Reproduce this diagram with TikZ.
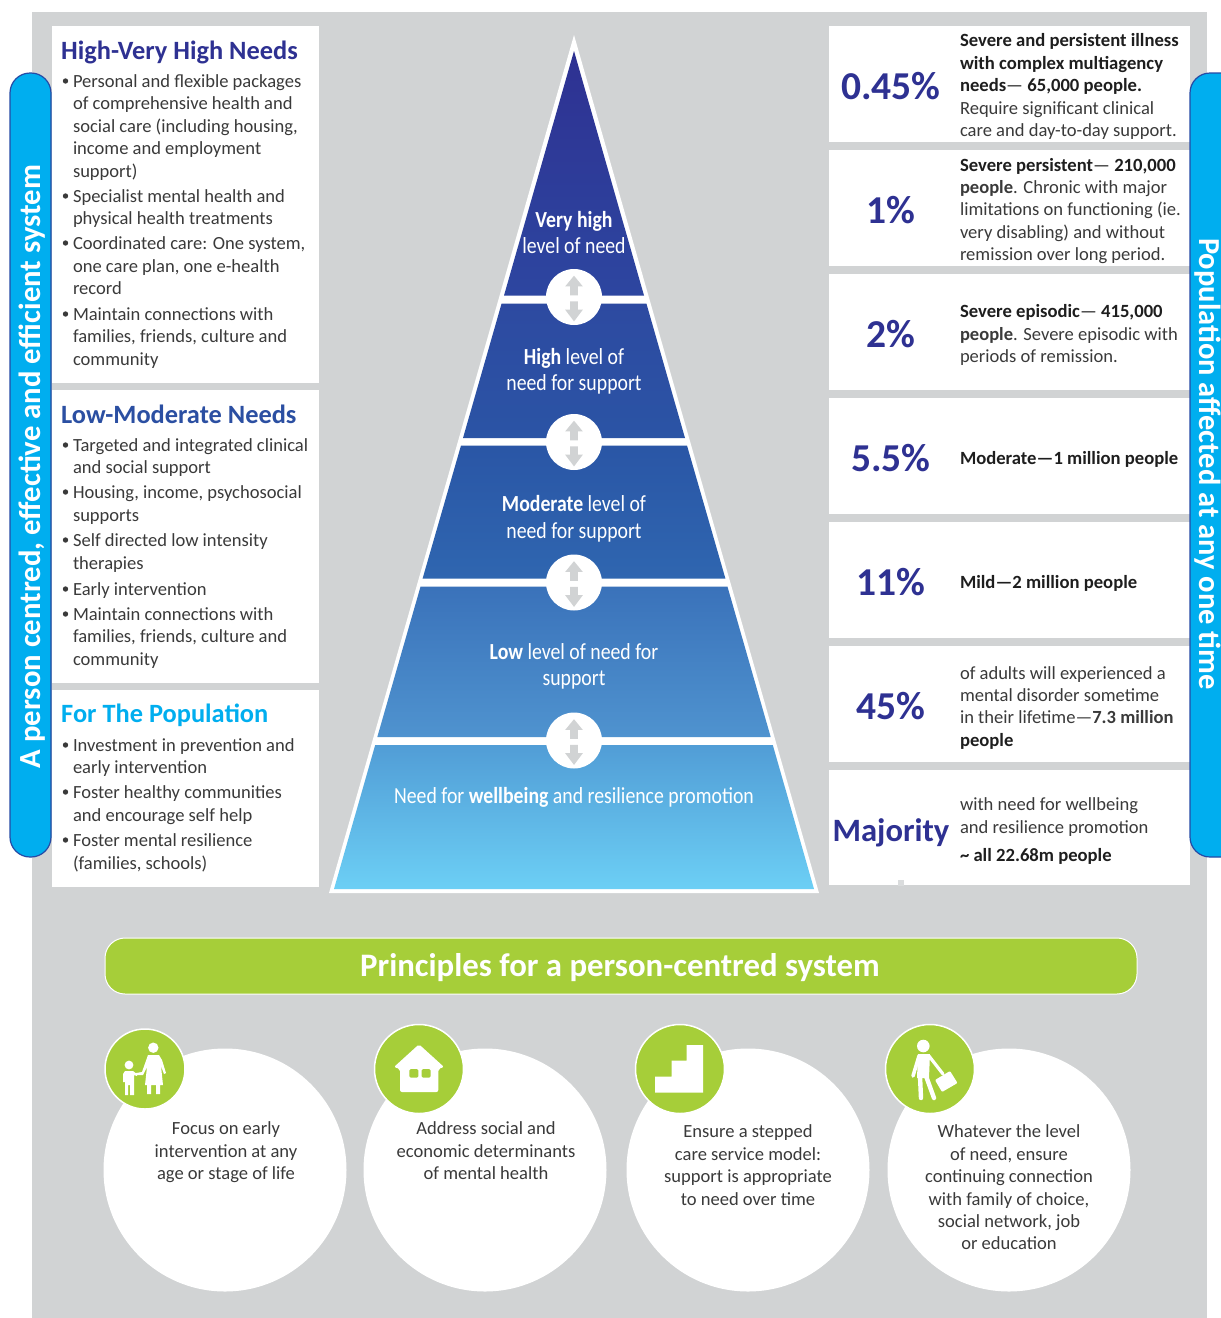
\documentclass[tikz,border=0pt]{standalone}
\usepackage{fontspec}
\setmainfont{Carlito}
\newfontfamily\pyrfont[FakeStretch=0.86]{Carlito}
\usetikzlibrary{calc}
\definecolor{bgrey}{HTML}{D1D3D4}
\definecolor{navy}{HTML}{2E3192}
\definecolor{midblue}{HTML}{2B4FA2}
\definecolor{cyanb}{HTML}{00AEEF}
\definecolor{lime}{HTML}{A6CE39}
\definecolor{ink}{HTML}{3A3A3A}
\definecolor{boldink}{HTML}{1E1E1E}
\definecolor{arrowgrey}{HTML}{D1D3D4}
\definecolor{pa}{HTML}{2E3192}
\definecolor{pb}{HTML}{2D46A0}
\definecolor{pc}{HTML}{2D4AA1}
\definecolor{pd}{HTML}{2B54A5}
\definecolor{pe}{HTML}{2A56A6}
\definecolor{pf}{HTML}{2F66B0}
\definecolor{pg}{HTML}{3A72BA}
\definecolor{ph}{HTML}{4F93CF}
\definecolor{pi}{HTML}{519DD6}
\definecolor{pj}{HTML}{6CCFF5}
\newcounter{tc}
\tikzset{
  x=1pt,y=-1pt,
  panel/.style={fill=white,draw=none},
  bodytext/.style={anchor=base west,inner sep=0,outer sep=0,text=ink,font=\fontsize{18.55}{22}\selectfont},
  boldtext/.style={bodytext,font=\fontsize{18.65}{22}\selectfont\bfseries,text=boldink},
  heading/.style={anchor=base west,inner sep=0,font=\fontsize{26.4}{30}\selectfont\bfseries},
  pct/.style={anchor=base,inner sep=0,text=navy,font=\fontsize{39.5}{40}\selectfont\bfseries},
  pyrtext/.style={anchor=base,inner sep=0,text=white,font=\fontsize{23}{26}\pyrfont\selectfont},
  captext/.style={anchor=base,inner sep=0,text=ink,font=\fontsize{18.55}{22}\selectfont},
  bartext/.style={inner sep=0,text=white,font=\fontsize{32.8}{36}\selectfont\bfseries},
  sidebar/.style={fill=cyanb,draw=navy!80!cyanb,line width=1.2pt,rounded corners=20pt},
  bigcircle/.style={fill=white,draw=none},
  greencircle/.style={fill=lime,draw=white,line width=1.5pt},
  icon/.style={fill=white,draw=none},
  limb/.style={draw=white,line cap=round,line join=round},
  updown/.style={fill=arrowgrey,draw=none},
}
\newcommand{\txL}[3][]{\stepcounter{tc}\node[bodytext,#1] (t\thetc) at (73,#2) {#3};}
\newcommand{\txB}[2]{\fill[ink] (65.5,#1) circle (2.7);\txL{#2}}
\newcommand{\txR}[2]{\stepcounter{tc}\node[bodytext] (t\thetc) at (960,#1) {#2};}
\newcommand{\txRb}[2]{\stepcounter{tc}\node[boldtext] (t\thetc) at (960,#1) {#2};}
\newcommand{\pctx}[2]{\stepcounter{tc}\node[pct] (t\thetc) at (891,#1) {#2};}
\newcommand{\pyrx}[2]{\stepcounter{tc}\node[pyrtext] (t\thetc) at (574,#1) {#2};}
\newcommand{\capx}[3]{\stepcounter{tc}\node[captext] (t\thetc) at (#1,#2) {#3};}
\newcommand{\updownat}[1]{%
  \fill[white] (574,#1) circle (28);
  \begin{scope}[shift={(574,#1)}]
    \fill[updown] (0,-21.3) -- (8.8,-10.6) -- (3.9,-10.6) -- (3.9,-1.6) -- (-3.9,-1.6) -- (-3.9,-10.6) -- (-8.8,-10.6) -- cycle;
    \fill[updown] (0,24.4) -- (8.8,12.7) -- (3.9,12.7) -- (3.9,4.4) -- (-3.9,4.4) -- (-3.9,12.7) -- (-8.8,12.7) -- cycle;
  \end{scope}}
\begin{document}
\begin{tikzpicture}
\useasboundingbox (0,0) rectangle (1221,1318);
\fill[white] (0,0) rectangle (1221,1318);
\fill[bgrey] (32,12) rectangle (1207,1318);
% left panels
\fill[panel] (52,26) rectangle (319,382.5);
\fill[panel] (52,390) rectangle (319,683);
\fill[panel] (52,690) rectangle (319,887);
% right panels
\foreach \a/\b in {26/142,150/266,274/390,398/514,522/638,646/762,770/885}
  \fill[panel] (829,\a) rectangle (1190,\b);
\fill[bgrey!80!white] (898,880) rectangle (904,886);
% side bars
\draw[sidebar] (10,73) rectangle (51,857);
\begin{scope}
\clip (0,0) rectangle (1221,1318);
\draw[sidebar] (1190,73) rectangle (1250,857);
\end{scope}
\node[inner sep=0,rotate=90,text=white,font=\fontsize{30.7}{32}\selectfont\bfseries] (leftlabel) at (32,466.5) {A person centred, effective and efficient system};
\node[inner sep=0,rotate=-90,text=white,font=\fontsize{30.5}{32}\selectfont\bfseries] (rightlabel) at (1208,464) {Population affected at any one time};
% headings and lists
\node[heading,text=navy] (h1) at (61,59) {High-Very High Needs};
\txB{81}{87}{Personal and flexible packages}
\txL{109}{of comprehensive health and}
\txL{132}{social care (including housing,}
\txL{154}{income and employment}
\txL{177}{support)}
\txB{196}{202}{Specialist mental health and}
\txL{224}{physical health treatments}
\txB{243}{249}{Coordinated care: One system,}
\txL{272}{one care plan, one e-health}
\txL{294}{record}
\txB{314}{320}{Maintain connections with}
\txL{342}{families, friends, culture and}
\txL{365}{community}
\node[heading,text=midblue] (h2) at (61,423) {Low-Moderate Needs};
\txB{445}{451}{Targeted and integrated clinical}
\txL{473}{and social support}
\txB{492}{498}{Housing, income, psychosocial}
\txL{521}{supports}
\txB{540}{546}{Self directed low intensity}
\txL{569}{therapies}
\txB{589}{595}{Early intervention}
\txB{614}{620}{Maintain connections with}
\txL{642}{families, friends, culture and}
\txL{665}{community}
\node[heading,text=cyanb] (h3) at (61,722) {For The Population};
\txB{745}{751}{Investment in prevention and}
\txL{773}{early intervention}
\txB{792}{798}{Foster healthy communities}
\txL{821}{and encourage self help}
\txB{840}{846}{Foster mental resilience}
\txL{869}{(families, schools)}
% pyramid
\fill[white] (574,35) -- (819,893) -- (329,893) -- cycle;
\shade[top color=pa,bottom color=pb] (574,51) -- (644,295.5) -- (504,295.5) -- cycle;
\shade[top color=pc,bottom color=pd] (646.4,303.5) -- (685,438) -- (463,438) -- (501.6,303.5) -- cycle;
\shade[top color=pe,bottom color=pf] (687,445.5) -- (725.4,578.5) -- (422.6,578.5) -- (461,445.5) -- cycle;
\shade[top color=pg,bottom color=ph] (727.5,586.7) -- (770.7,737) -- (377.3,737) -- (420.5,586.7) -- cycle;
\shade[top color=pi,bottom color=pj] (772.8,745) -- (814,889) -- (334,889) -- (375.2,745) -- cycle;
\updownat{297}
\updownat{442}
\updownat{582.5}
\updownat{740.5}
\pyrx{227}{\textbf{Very high}}
\pyrx{253}{level of need}
\pyrx{364}{\textbf{High} level of}
\pyrx{390}{need for support}
\pyrx{511}{\textbf{Moderate} level of}
\pyrx{538}{need for support}
\pyrx{659}{\textbf{Low} level of need for}
\pyrx{685}{support}
\pyrx{803}{Need for \textbf{wellbeing} and resilience promotion}
% right side
\pctx{99}{0.45\%}
\pctx{223}{1\%}
\pctx{347}{2\%}
\pctx{471}{5.5\%}
\pctx{595}{11\%}
\pctx{719}{45\%}
\stepcounter{tc}\node[pct,font=\fontsize{32.6}{36}\selectfont\bfseries] (t\thetc) at (891,841) {Majority};
\txRb{46}{Severe and persistent illness}
\txRb{69}{with complex multiagency}
\txRb{91}{needs{\mdseries—} 65,000 people.}
\txR{114}{Require significant clinical}
\txR{136}{care and day-to-day support.}
\txRb{171}{Severe persistent{\mdseries—} 210,000}
\txR{193}{\textbf{people}. Chronic with major}
\txR{215}{limitations on functioning (ie.}
\txR{238}{very disabling) and without}
\txR{260}{remission over long period.}
\txRb{317}{Severe episodic{\mdseries—} 415,000}
\txR{340}{\textbf{people}. Severe episodic with}
\txR{362}{periods of remission.}
\txRb{464}{Moderate—1 million people}
\txRb{588}{Mild—2 million people}
\txR{679}{of adults will experienced a}
\txR{701}{mental disorder sometime}
\txR{723}{in their lifetime—\textbf{7.3 million}}
\txRb{746}{people}
\txR{810}{with need for wellbeing}
\txR{833}{and resilience promotion}
\txRb{861}{\textasciitilde{} all 22.68m people}
% principles bar
\draw[fill=lime,draw=white,line width=1pt,rounded corners=20pt] (105,938) rectangle (1137,994);
\node[bartext] (barlabel) at (620,968) {Principles for a person-centred system};
% big circles
\fill[bigcircle] (225,1170) circle (121.5);
\fill[bigcircle] (485,1170) circle (121.5);
\fill[bigcircle] (748,1170) circle (121.5);
\fill[bigcircle] (1009,1170) circle (121.5);
\draw[greencircle] (145,1069) circle (40);
\draw[greencircle] (419,1069) circle (44.5);
\draw[greencircle] (680,1069) circle (44.5);
\draw[greencircle] (930,1069) circle (44.5);
% icon 1: woman and child
\fill[icon] (153.3,1047.7) circle (5.2);
\fill[icon] (148,1055) -- (159,1055) -- (162,1060) -- (166,1073) -- (164,1074) -- (161,1066) -- (163,1085) -- (160,1085) -- (160,1094) -- (156,1094) -- (156,1085) -- (151,1085) -- (151,1094) -- (147,1094) -- (147,1085) -- (145,1085) -- (147,1067) -- (143,1075) -- (136,1075) -- (136,1073) -- (142,1072) -- cycle;
\fill[icon] (129,1065) circle (4.4);
\fill[icon] (125,1071) -- (133,1071) -- (137,1074) -- (137,1076) -- (134,1075) -- (134,1095) -- (130,1095) -- (130,1085) -- (128,1085) -- (128,1095) -- (125,1095) -- (125,1082) -- (123,1082) -- (123,1074) -- cycle;
% icon 2: house
\fill[icon,rounded corners=2pt] (419,1044.3) -- (444,1067) -- (438.3,1069) -- (438.3,1092) -- (400,1092) -- (400,1069) -- (394,1067) -- cycle;
\fill[lime,rounded corners=1.5pt] (409.3,1069) rectangle (418.3,1077.7);
\fill[lime,rounded corners=1.5pt] (421.7,1069) rectangle (430.7,1077.7);
% icon 3: stairs
\fill[icon] (655,1076.7) -- (671.7,1076.7) -- (671.7,1060.7) -- (686.7,1060.7) -- (686.7,1045) -- (703,1045) -- (703,1092.7) -- (655,1092.7) -- cycle;
% icon 4: person with briefcase
\fill[icon] (923.3,1046) circle (6.3);
\fill[icon] (918,1054) -- (930,1054) -- (929,1078) -- (917,1078) -- cycle;
\draw[limb,line width=3.6pt] (919,1056) -- (913,1076);
\draw[limb,line width=3.2pt] (929,1056) -- (943,1074);
\draw[limb,line width=4.4pt] (920,1076) -- (921,1098);
\draw[limb,line width=4.4pt] (926,1076) -- (934,1098);
\fill[icon,rounded corners=1pt] (935,1080) -- (950,1071) -- (957.5,1083) -- (942,1092) -- cycle;
% captions
\capx{226}{1134}{Focus on early}
\capx{226}{1157}{intervention at any}
\capx{226}{1179}{age or stage of life}
\capx{486}{1134}{Address social and}
\capx{486}{1157}{economic determinants}
\capx{486}{1179}{of mental health}
\capx{748}{1137}{Ensure a stepped}
\capx{748}{1160}{care service model:}
\capx{748}{1182}{support is appropriate}
\capx{748}{1205}{to need over time}
\capx{1009}{1137}{Whatever the level}
\capx{1009}{1160}{of need, ensure}
\capx{1009}{1182}{continuing connection}
\capx{1009}{1205}{with family of choice,}
\capx{1009}{1227}{social network, job}
\capx{1009}{1249}{or education}
\end{tikzpicture}
\end{document}
